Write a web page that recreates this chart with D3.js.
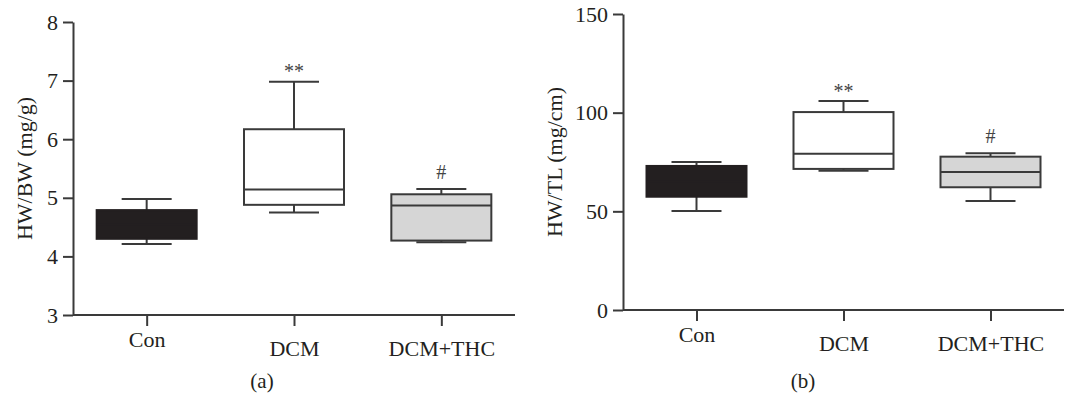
<!DOCTYPE html>
<html>
<head>
<meta charset="utf-8">
<script src="https://cdn.jsdelivr.net/npm/d3@7"></script>
<style>
  html, body { margin: 0; padding: 0; background: #fff; }
  svg { display: block; }
</style>
</head>
<body>
<svg id="chart" width="1065" height="400"></svg>
<script>
// ---- Data ----
const categories = ["Con", "DCM", "DCM+THC"];
const fills = ["#231f20", "#ffffff", "#d6d6d6"];
const signif = ["", "**", "#"];

// Panel (a): HW/BW (mg/g)
const hwbwMin    = [4.21, 4.75, 4.24];
const hwbwQ1     = [4.30, 4.88, 4.27];
const hwbwMedian = [4.55, 5.14, 4.87];
const hwbwQ3     = [4.79, 6.17, 5.06];
const hwbwMax    = [4.98, 6.98, 5.15];
const hwbwTicks  = [3, 4, 5, 6, 7, 8];

// Panel (b): HW/TL (mg/cm)
const hwtlMin    = [50.2, 70.6, 55.2];
const hwtlQ1     = [57.4, 71.5, 62.2];
const hwtlMedian = [65.0, 79.2, 69.9];
const hwtlQ3     = [73.0, 100.3, 77.7];
const hwtlMax    = [75.0, 105.9, 79.4];
const hwtlTicks  = [0, 50, 100, 150];

const svg = d3.select("#chart");
const FONT = "'Liberation Serif', 'DejaVu Serif', serif";
const INK = "#231f20";
const LINE = "#3a3a3a";

function panel(opts) {
  const { x0, x1, yTop, yBot, domain, ticks, mins, q1s, meds, q3s, maxs, ylabel, ylabelX, tag, tagX } = opts;
  const x = d3.scalePoint().domain(categories).range([x0, x1]).padding(0.5);
  const y = d3.scaleLinear().domain(domain).range([yBot, yTop]);
  const g = svg.append("g");

  // y axis
  const ya = g.append("g").attr("transform", `translate(${x0},0)`)
    .call(d3.axisLeft(y).tickValues(ticks).tickFormat(d3.format("d")).tickSize(10).tickSizeOuter(0).tickPadding(5));
  ya.attr("font-family", FONT).attr("font-size", 22);
  ya.select(".domain").attr("stroke", LINE).attr("stroke-width", 2);
  ya.selectAll(".tick line").attr("stroke", LINE).attr("stroke-width", 2);
  ya.selectAll(".tick text").attr("fill", INK);

  // x axis
  const xa = g.append("g").attr("transform", `translate(0,${yBot})`)
    .call(d3.axisBottom(x).tickSize(11).tickSizeOuter(0).tickPadding(8));
  xa.attr("font-family", FONT).attr("font-size", 22);
  xa.select(".domain").attr("stroke", LINE).attr("stroke-width", 2)
    .attr("d", `M${x0},0H${x1}`);
  xa.selectAll(".tick line").attr("stroke", LINE).attr("stroke-width", 2);
  xa.selectAll(".tick text").attr("fill", INK)
    .attr("dy", (d, i) => i === 0 ? "0.6em" : "1.0em");

  const boxW = 100, capW = 50;
  const idx = d3.range(categories.length);
  const bx = g.selectAll("g.box").data(idx).join("g").attr("class", "box");

  // whiskers
  bx.append("line")
    .attr("x1", i => x(categories[i])).attr("x2", i => x(categories[i]))
    .attr("y1", i => y(maxs[i])).attr("y2", i => y(q3s[i]))
    .attr("stroke", LINE).attr("stroke-width", 2);
  bx.append("line")
    .attr("x1", i => x(categories[i])).attr("x2", i => x(categories[i]))
    .attr("y1", i => y(q1s[i])).attr("y2", i => y(mins[i]))
    .attr("stroke", LINE).attr("stroke-width", 2);
  // caps
  bx.append("line")
    .attr("x1", i => x(categories[i]) - capW / 2).attr("x2", i => x(categories[i]) + capW / 2)
    .attr("y1", i => y(maxs[i])).attr("y2", i => y(maxs[i]))
    .attr("stroke", LINE).attr("stroke-width", 2);
  bx.append("line")
    .attr("x1", i => x(categories[i]) - capW / 2).attr("x2", i => x(categories[i]) + capW / 2)
    .attr("y1", i => y(mins[i])).attr("y2", i => y(mins[i]))
    .attr("stroke", LINE).attr("stroke-width", 2);
  // box
  bx.append("rect")
    .attr("x", i => x(categories[i]) - boxW / 2).attr("width", boxW)
    .attr("y", i => y(q3s[i])).attr("height", i => y(q1s[i]) - y(q3s[i]))
    .attr("fill", i => fills[i])
    .attr("stroke", i => i === 0 ? fills[0] : LINE).attr("stroke-width", 2);
  // median
  bx.append("line")
    .attr("x1", i => x(categories[i]) - boxW / 2).attr("x2", i => x(categories[i]) + boxW / 2)
    .attr("y1", i => y(meds[i])).attr("y2", i => y(meds[i]))
    .attr("stroke", i => i === 0 ? fills[0] : LINE).attr("stroke-width", 2);
  // significance marks
  bx.append("text")
    .attr("x", i => x(categories[i]))
    .attr("y", i => y(maxs[i]) - (signif[i] === "#" ? 10 : 3.5))
    .attr("text-anchor", "middle")
    .attr("font-family", FONT).attr("font-size", 20).attr("fill", "#444")
    .text(i => signif[i]);

  // y label
  g.append("text")
    .attr("transform", `translate(${ylabelX},${(yTop + yBot) / 2}) rotate(-90)`)
    .attr("text-anchor", "middle")
    .attr("font-family", FONT).attr("font-size", 22).attr("fill", INK)
    .text(ylabel);

  // panel tag
  g.append("text")
    .attr("x", tagX).attr("y", 388)
    .attr("text-anchor", "middle")
    .attr("font-family", FONT).attr("font-size", 21).attr("fill", INK)
    .text(tag);
}

panel({ x0: 73, x1: 515, yTop: 22, yBot: 315, domain: [3, 8], ticks: hwbwTicks,
  mins: hwbwMin, q1s: hwbwQ1, meds: hwbwMedian, q3s: hwbwQ3, maxs: hwbwMax,
  ylabel: "HW/BW (mg/g)", ylabelX: 32, tag: "(a)", tagX: 262 });

panel({ x0: 623, x1: 1064, yTop: 14, yBot: 310, domain: [0, 150], ticks: hwtlTicks,
  mins: hwtlMin, q1s: hwtlQ1, meds: hwtlMedian, q3s: hwtlQ3, maxs: hwtlMax,
  ylabel: "HW/TL (mg/cm)", ylabelX: 562, tag: "(b)", tagX: 803 });
</script>
</body>
</html>
